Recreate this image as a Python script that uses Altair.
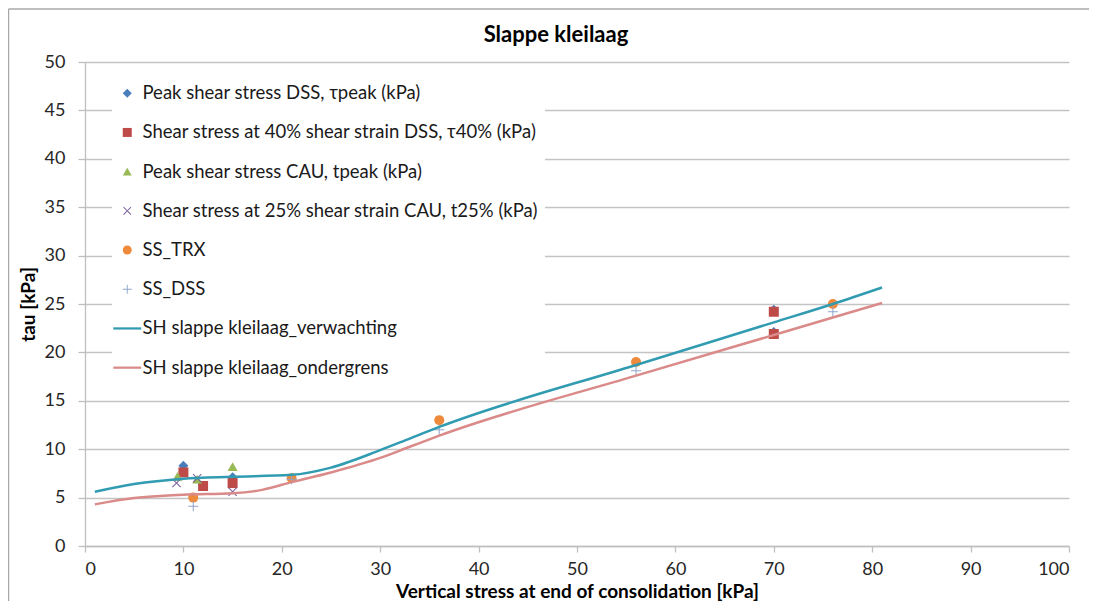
import altair as alt
import pandas as pd

# ---------------- data ----------------
series_names = [
    "Peak shear stress DSS, τpeak (kPa)",
    "Shear stress at 40% shear strain DSS, τ40% (kPa)",
    "Peak shear stress CAU, tpeak (kPa)",
    "Shear stress at 25% shear strain CAU, t25% (kPa)",
    "SS_TRX",
    "SS_DSS",
    "SH slappe kleilaag_verwachting",
    "SH slappe kleilaag_ondergrens",
]

dss_peak_x = [10, 15, 70, 70]
dss_peak_y = [8.3, 7.1, 24.4, 22.1]
dss_40_x = [10, 12, 15, 70, 70]
dss_40_y = [7.6, 6.2, 6.5, 24.2, 21.9]
cau_peak_x = [9.4, 11.4, 15]
cau_peak_y = [7.2, 6.9, 8.2]
cau_25_x = [9.3, 11.4, 15]
cau_25_y = [6.5, 7.0, 5.6]
trx_x = [11, 21, 36, 56, 76]
trx_y = [5.0, 7.0, 13.0, 19.0, 25.0]
ssdss_x = [11, 21, 36, 56, 76]
ssdss_y = [4.1, 6.9, 12.0, 18.1, 24.2]

verw_x = [1, 5, 10, 15, 21, 25, 30, 33, 36, 56, 70, 76, 81]
verw_y = [5.6, 6.4, 6.95, 7.15, 7.35, 8.1, 9.9, 11.1, 12.3, 18.7, 23.1, 25.0, 26.7]
onder_x = [1, 5, 10, 15, 18, 21, 25, 30, 33, 36, 56, 70, 76, 81]
onder_y = [4.3, 4.95, 5.3, 5.45, 5.8, 6.6, 7.6, 9.1, 10.25, 11.4, 17.6, 21.8, 23.6, 25.1]

colors = ["#4A7EBB", "#BE4B48", "#98B954", "#7D60A0", "#EE8A3C", "#8EA5CB",
          "#319BB2", "#DA8A88"]

X_PATH = ("M-0.9,-0.75L-0.75,-0.9L0,-0.15L0.75,-0.9L0.9,-0.75L0.15,0L0.9,0.75"
          "L0.75,0.9L0,0.15L-0.75,0.9L-0.9,0.75L-0.15,0Z")
PLUS_PATH = ("M-0.1,-1H0.1V-0.1H1V0.1H0.1V1H-0.1V0.1H-1V-0.1H-0.1Z")
LINE_PATH = "M-3.1,-0.25H3.1V0.25H-3.1Z"
shapes = ["diamond", "square", "triangle-up", X_PATH, "circle", PLUS_PATH,
          LINE_PATH, LINE_PATH]

# ---------------- tables ----------------
pt_groups = [
    (series_names[0], dss_peak_x, dss_peak_y),
    (series_names[1], dss_40_x, dss_40_y),
    (series_names[2], cau_peak_x, cau_peak_y),
    (series_names[3], cau_25_x, cau_25_y),
    (series_names[4], trx_x, trx_y),
    (series_names[5], ssdss_x, ssdss_y),
]
rows = []
order = 0
for name, xs, ys in pt_groups:
    for xv, yv in zip(xs, ys):
        rows.append({"series": name, "x": xv, "y": yv, "o": order})
        order += 1
pts = pd.DataFrame(rows)

lrows = []
for name, xs, ys in [(series_names[6], verw_x, verw_y),
                     (series_names[7], onder_x, onder_y)]:
    for xv, yv in zip(xs, ys):
        lrows.append({"series": name, "x": xv, "y": yv})
lines = pd.DataFrame(lrows)

FONT = "Lato"

color_scale = alt.Scale(domain=series_names, range=colors)
shape_scale = alt.Scale(domain=series_names, range=shapes)

x_enc = alt.X("x:Q", scale=alt.Scale(domain=[0, 100], nice=False),
              axis=alt.Axis(values=list(range(0, 101, 10)), grid=False,
                            title="Vertical stress at end of consolidation [kPa]",
                            tickSize=6, labelPadding=8, titlePadding=4))
y_enc = alt.Y("y:Q", scale=alt.Scale(domain=[0, 50], nice=False),
              axis=alt.Axis(values=list(range(0, 51, 5)), grid=True,
                            title="tau [kPa]", tickSize=7, labelPadding=13,
                            titlePadding=6))

legend = alt.Legend(
    title=None, orient="none", legendX=27, legendY=16,
    symbolSize=81, labelOffset=6, rowPadding=20.2, padding=6,
    fillColor="white", labelFontSize=18.5, labelFont=FONT, labelColor="#1a1a1a",
    labelLimit=700, symbolStrokeWidth=0,
)

points = alt.Chart(pts).mark_point(filled=True, size=100, opacity=1).encode(
    x=x_enc, y=y_enc,
    color=alt.Color("series:N", scale=color_scale, legend=legend),
    shape=alt.Shape("series:N", scale=shape_scale, legend=legend),
    order=alt.Order("o:Q"),
)

line_layer = alt.Chart(lines).mark_line(strokeWidth=2.5, interpolate="monotone").encode(
    x="x:Q", y="y:Q",
    color=alt.Color("series:N", scale=color_scale, legend=legend),
)

frame_src = pd.DataFrame({"k": [0]})
frame_top = alt.Chart(frame_src).mark_rule(stroke="#A8A8A8", strokeWidth=1.5).encode(
    x=alt.value(-76.5), x2=alt.value(1100), y=alt.value(-53))
frame_left = alt.Chart(frame_src).mark_rule(stroke="#A8A8A8", strokeWidth=1.5).encode(
    x=alt.value(-76.5), y=alt.value(-53), y2=alt.value(620))

chart = alt.layer(frame_top, frame_left, points, line_layer).properties(
    width=984, height=484,
    padding={"left": 77, "top": 54, "right": 20, "bottom": 55},
    autosize=alt.AutoSizeParams(type="none"),
    title=alt.TitleParams("Slappe kleilaag", font=FONT, fontSize=22,
                          fontWeight="bold", color="#000000", offset=-39, dx=-21),
).configure_view(stroke=None).configure_axis(
    labelFont=FONT, labelFontSize=18, labelColor="#262626",
    titleFont=FONT, titleFontSize=19, titleFontWeight="bold", titleColor="#000000",
    domainColor="#BFBFBF", tickColor="#BFBFBF", gridColor="#C4C4C4",
    domainWidth=1.3, tickWidth=1.3, gridWidth=1.3,
)

chart.save("out.html", embed_options={"renderer": "svg", "actions": False})
